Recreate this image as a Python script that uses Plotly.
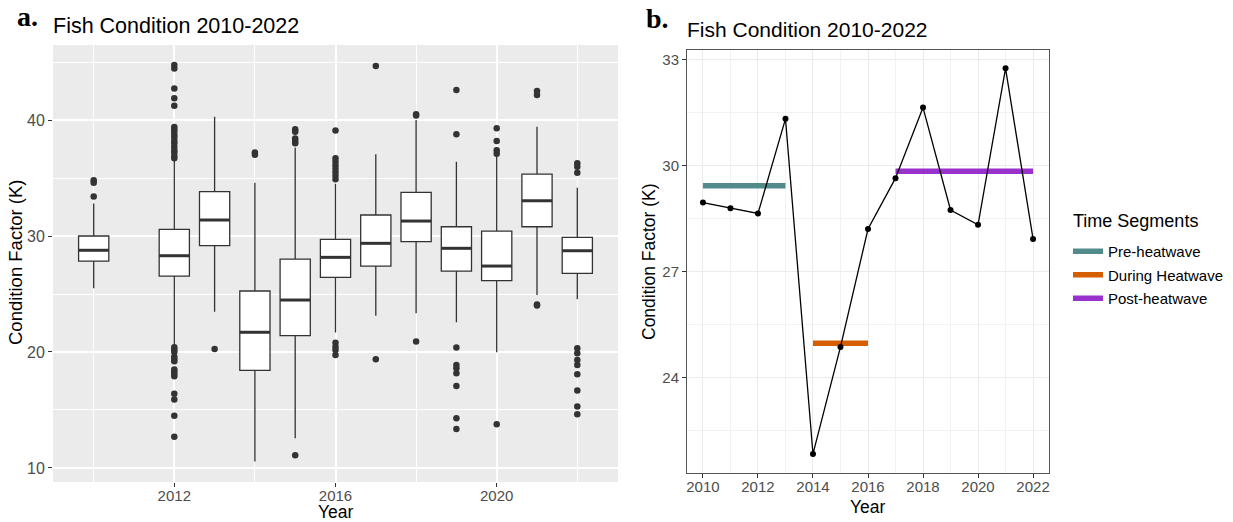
import plotly.graph_objects as go

# ---- Panel a: distribution of condition factor per year (box summaries) ----
box_years = [2010, 2012, 2013, 2014, 2015, 2016, 2017, 2018, 2019, 2020, 2021, 2022]
box_q1 = [27.84, 26.55, 29.17, 18.42, 21.41, 26.44, 27.41, 29.52, 26.98, 26.15, 30.80, 26.78]
box_median = [28.77, 28.30, 31.38, 21.70, 24.48, 28.16, 29.37, 31.29, 28.94, 27.41, 33.04, 28.73]
box_q3 = [30.00, 30.58, 33.82, 25.26, 28.00, 29.71, 31.81, 33.77, 30.80, 30.43, 35.34, 29.89]
box_low = [25.49, 20.60, 23.48, 10.55, 12.56, 21.67, 23.13, 23.34, 22.56, 19.97, 24.91, 24.55]
box_high = [32.80, 36.55, 40.29, 34.60, 37.60, 34.50, 37.04, 40.00, 36.41, 36.84, 39.42, 34.16]

outliers = {
    2010: [34.8, 34.6, 33.4],
    2012: [44.75, 44.45, 42.73, 41.87, 41.23, 39.4, 39.2, 39.0, 38.7, 38.5, 38.2,
           38.0, 37.7, 37.4, 37.2, 36.9, 36.7, 20.4, 20.2, 20.0, 19.6, 19.4, 19.2,
           18.5, 18.3, 18.1, 17.9, 16.4, 15.9, 14.5, 12.7],
    2013: [20.26],
    2014: [37.2, 37.0],
    2015: [39.2, 39.0, 38.4, 38.2, 38.0, 11.1],
    2016: [39.1, 36.7, 36.4, 36.1, 35.8, 35.5, 35.2, 34.9, 20.8, 20.46, 20.17, 19.74],
    2017: [44.66, 19.37],
    2018: [40.5, 40.4, 20.9],
    2019: [42.59, 38.77, 20.38, 18.88, 18.59, 18.16, 17.07, 14.28, 13.36],
    2020: [39.3, 38.2, 37.4, 37.1, 13.76],
    2021: [42.5, 42.16, 24.1, 24.0],
    2022: [36.27, 35.98, 35.46, 20.33, 19.89, 19.31, 18.88, 18.08, 16.67, 15.29, 14.63],
}

# ---- Panel b: yearly mean condition factor and heatwave segments ----
mean_years = list(range(2010, 2023))
mean_k = [28.96, 28.80, 28.65, 31.33, 21.84, 24.87, 28.21, 29.65, 31.65, 28.75,
          28.33, 32.76, 27.93]

segment_names = ["Pre-heatwave", "During Heatwave", "Post-heatwave"]
segment_start = [2010, 2014, 2017]
segment_end = [2013, 2016, 2022]
segment_colors = ["#528B8B", "#D55E00", "#9932CC"]

FONT = "Liberation Sans, Arial, sans-serif"
SERIF = "Liberation Serif, Times New Roman, serif"
W, H = 1233, 522
BOX_W = 0.75

fig = go.Figure()

# boxes
fig.add_trace(go.Box(
    x=box_years, q1=box_q1, median=box_median, q3=box_q3,
    lowerfence=box_low, upperfence=box_high,
    width=BOX_W, whiskerwidth=0, fillcolor="white",
    line=dict(color="#333333", width=1.3),
    boxpoints=False, showlegend=False, xaxis="x", yaxis="y",
))

# thicker median bars on top of the boxes
med_x, med_y = [], []
for yr, m in zip(box_years, box_median):
    med_x += [yr - BOX_W / 2, yr + BOX_W / 2, None]
    med_y += [m, m, None]
fig.add_trace(go.Scatter(
    x=med_x, y=med_y, mode="lines", line=dict(color="#333333", width=3),
    showlegend=False, hoverinfo="skip", xaxis="x", yaxis="y",
))

# outlier points
out_x, out_y = [], []
for yr, vals in outliers.items():
    out_x += [yr] * len(vals)
    out_y += vals
fig.add_trace(go.Scatter(
    x=out_x, y=out_y, mode="markers",
    marker=dict(color="#333333", size=6.5, line=dict(width=0)),
    showlegend=False, xaxis="x", yaxis="y",
))

# segment means
for name, s, e, c in zip(segment_names, segment_start, segment_end, segment_colors):
    vals = [k for y, k in zip(mean_years, mean_k) if s <= y <= e]
    avg = sum(vals) / len(vals)
    fig.add_trace(go.Scatter(
        x=[s, e], y=[avg, avg], mode="lines", name=name, legendgroup=name,
        line=dict(color=c, width=5.5), xaxis="x2", yaxis="y2",
    ))

# yearly means
fig.add_trace(go.Scatter(
    x=mean_years, y=mean_k, mode="lines+markers",
    line=dict(color="black", width=1.3),
    marker=dict(color="black", size=6),
    showlegend=False, xaxis="x2", yaxis="y2",
))

def px_x(p):
    return p / W

def px_y(p):
    return 1 - p / H

tick_font_a = dict(family=FONT, size=16, color="#4D4D4D")
tick_font_ax = dict(family=FONT, size=15, color="#4D4D4D")
tick_font_b = dict(family=FONT, size=15, color="#4D4D4D")


def label(text, x, y, size, family=FONT, angle=0, xanchor="center", yanchor="middle"):
    return dict(text=text, x=px_x(x), y=px_y(y), xref="paper", yref="paper",
                xanchor=xanchor, yanchor=yanchor, showarrow=False, borderpad=0,
                textangle=angle, font=dict(family=family, size=size, color="black"))


fig.update_layout(
    width=W, height=H,
    margin=dict(l=0, r=0, t=0, b=0),
    paper_bgcolor="white",
    plot_bgcolor="white",
    font=dict(family=FONT),
    showlegend=True,
    shapes=[dict(type="rect", xref="paper", yref="paper",
                 x0=px_x(53), x1=px_x(618), y0=px_y(482), y1=px_y(45),
                 fillcolor="#EBEBEB", line=dict(width=0), layer="below")],
    xaxis=dict(
        domain=[px_x(53), px_x(618)], range=[2008.99, 2023.01], anchor="y",
        automargin=False,
        tickmode="linear", tick0=2012, dtick=4,
        showgrid=True, gridcolor="white", gridwidth=1.6, zeroline=False,
        minor=dict(tick0=2010, dtick=2, showgrid=True, gridcolor="white",
                   gridwidth=0.7, ticks=""),
        ticks="outside", ticklen=4, tickcolor="#333333", tickwidth=1,
        ticklabelstandoff=-4, tickfont=tick_font_ax,
    ),
    yaxis=dict(
        domain=[px_y(482), px_y(45)], range=[8.79, 46.47], anchor="x",
        automargin=False,
        tickmode="linear", tick0=10, dtick=10,
        showgrid=True, gridcolor="white", gridwidth=1.6, zeroline=False,
        minor=dict(tick0=5, dtick=5, showgrid=True, gridcolor="white",
                   gridwidth=0.7, ticks=""),
        ticks="outside", ticklen=4, tickcolor="#333333", tickwidth=1,
        tickfont=tick_font_a,
    ),
    xaxis2=dict(
        domain=[px_x(687), px_x(1049)], range=[2009.42, 2022.58], anchor="y2",
        automargin=False,
        tickmode="linear", tick0=2010, dtick=2,
        showgrid=True, gridcolor="#EBEBEB", gridwidth=1.2, zeroline=False,
        minor=dict(tick0=2011, dtick=1, showgrid=True, gridcolor="#F2F2F2",
                   gridwidth=0.7, ticks=""),
        ticks="outside", ticklen=4, tickcolor="#333333", tickwidth=1,
        showline=True, mirror=True, linecolor="#555555", linewidth=1,
        ticklabelstandoff=-4, tickfont=tick_font_b,
    ),
    yaxis2=dict(
        domain=[px_y(473), px_y(50)], range=[21.30, 33.28], anchor="x2",
        automargin=False,
        tickmode="linear", tick0=24, dtick=3,
        showgrid=True, gridcolor="#EBEBEB", gridwidth=1.2, zeroline=False,
        minor=dict(tick0=22.5, dtick=1.5, showgrid=True, gridcolor="#F2F2F2",
                   gridwidth=0.7, ticks=""),
        ticks="outside", ticklen=4, tickcolor="#333333", tickwidth=1,
        showline=True, mirror=True, linecolor="#555555", linewidth=1,
        tickfont=tick_font_b,
    ),
    legend=dict(
        font=dict(family=FONT, size=15, color="black"),
        x=px_x(1068), y=px_y(235), xanchor="left", yanchor="top",
        bgcolor="rgba(0,0,0,0)", itemwidth=30, tracegroupgap=1,
    ),
    annotations=[
        label("<b>a.</b>", 16, 16, 28, family=SERIF, xanchor="left"),
        label("<b>b.</b>", 645, 19, 28, family=SERIF, xanchor="left"),
        label("Fish Condition 2010-2022", 52, 26, 21.5, xanchor="left"),
        label("Fish Condition 2010-2022", 686, 29.5, 21, xanchor="left"),
        label("Year", 335.5, 512, 17.5),
        label("Year", 868, 507, 17.5),
        label("Condition Factor (K)", 15, 262, 18.5, angle=-90),
        label("Condition Factor (K)", 649, 261, 17.5, angle=-90),
        label("Time Segments", 1072, 221, 18, xanchor="left"),
    ],
)

fig.write_html("out.html")
